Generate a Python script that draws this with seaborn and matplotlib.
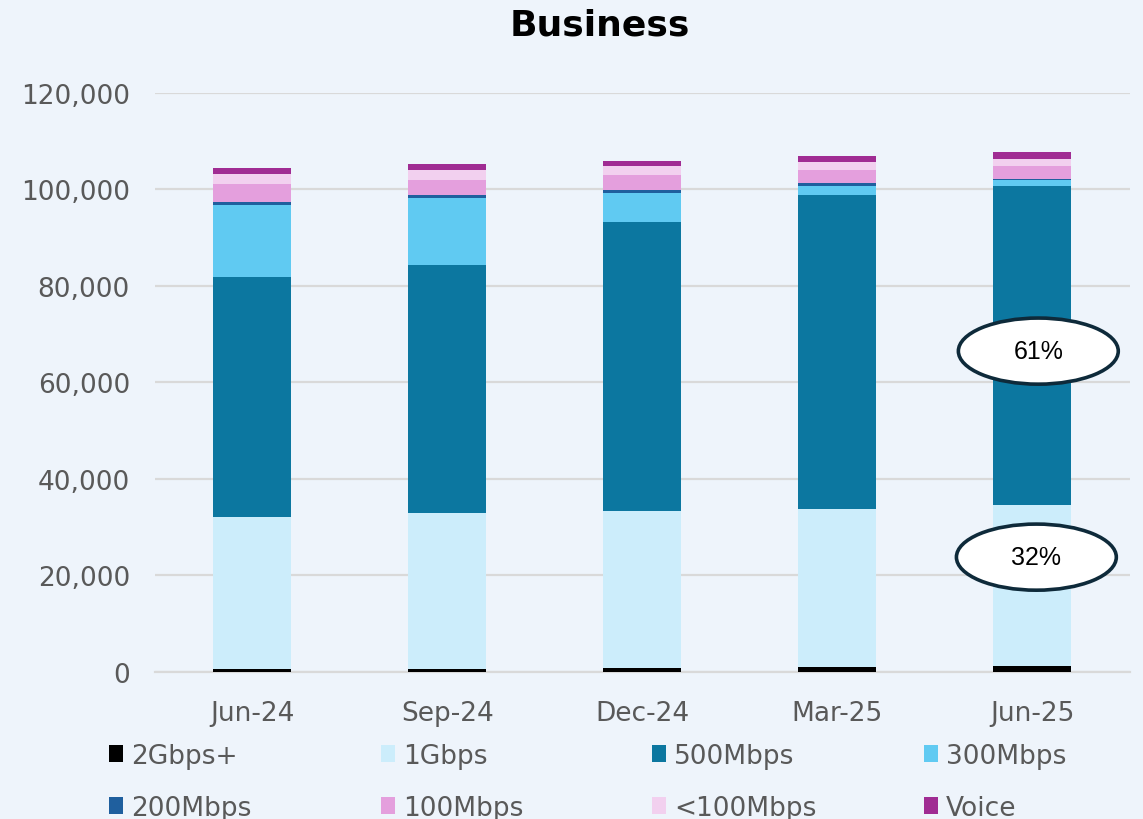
import numpy as np
import matplotlib.pyplot as plt
import seaborn as sns
from matplotlib.patches import Ellipse, Patch

quarters = ["Jun-24", "Sep-24", "Dec-24", "Mar-25", "Jun-25"]
tiers = ["2Gbps+", "1Gbps", "500Mbps", "300Mbps", "200Mbps", "100Mbps", "<100Mbps", "Voice"]

gbps2 = [550, 550, 750, 1000, 1200]
gbps1 = [31550, 32450, 32650, 32800, 33400]
mbps500 = [49800, 51400, 59900, 65100, 66100]
mbps300 = [14900, 13900, 6000, 1900, 1200]
mbps200 = [700, 600, 600, 500, 300]
mbps100 = [3600, 3100, 3000, 2700, 2700]
mbps_lt100 = [2100, 2000, 1900, 1600, 1400]
voice = [1300, 1300, 1200, 1300, 1400]

share_labels = ["61%", "32%"]

colors = ["#000000", "#CCEDFB", "#0C77A0", "#60CAF2",
          "#1F5F9E", "#E49FDD", "#F2D0EF", "#A02C93"]

bg = "#EEF4FB"
grey = "#595959"

sns.set_theme(style="white")
plt.rcParams["font.family"] = ["DejaVu Sans"]

fig = plt.figure(figsize=(11.43, 8.2), dpi=100, facecolor=bg)
ax = fig.add_axes([0.1356, 0.1793, 0.853, 0.7061], facecolor=bg)

series = [gbps2, gbps1, mbps500, mbps300, mbps200, mbps100, mbps_lt100, voice]
tops = np.cumsum(np.array(series), axis=0)

# draw cumulative totals from the top down so lower layers cover upper ones
for i in range(len(series) - 1, -1, -1):
    sns.barplot(x=quarters, y=tops[i], color=colors[i], width=0.4,
                saturation=1, linewidth=0, ax=ax, zorder=3)

ax.set_ylim(0, 120000)
ax.set_xlim(-0.5, 4.5)
ax.set_yticks(np.arange(0, 120001, 20000))
ax.set_yticklabels([f"{v:,}" for v in range(0, 120001, 20000)])
ax.yaxis.grid(True, color="#D9D9D9", linewidth=1.6, zorder=0)
ax.set_axisbelow(True)
for s in ["top", "right", "left"]:
    ax.spines[s].set_visible(False)
ax.spines["bottom"].set_color("#D9D9D9")
ax.spines["bottom"].set_linewidth(1.6)
ax.tick_params(axis="y", length=0, pad=18, labelsize=19, labelcolor=grey)
ax.tick_params(axis="x", length=0, pad=20, labelsize=19, labelcolor=grey)
ax.set_xlabel("")
ax.set_ylabel("")

fig.text(0.525, 0.969, "Business", ha="center", va="center",
         fontsize=26, fontweight="bold", color="black")

# callouts on the last bar
for (cx, cy), lab in zip([(4.03, 66500), (4.02, 23800)], share_labels):
    ax.add_patch(Ellipse((cx, cy), 0.82, 13700, facecolor="white",
                         edgecolor="#0E2A3A", linewidth=2.6, zorder=5, clip_on=False))
    ax.text(cx, cy, lab, ha="center", va="center", fontsize=18,
            family="Liberation Sans", color="black", zorder=6)

handles = [Patch(facecolor=c, edgecolor="none") for c in colors]
col_x = [0.095, 0.333, 0.570, 0.808]
for c in range(4):
    leg = fig.legend([handles[c], handles[c + 4]], [tiers[c], tiers[c + 4]],
                     loc="upper left", bbox_to_anchor=(col_x[c], 0.093),
                     frameon=False, fontsize=19, handlelength=0.55,
                     handleheight=0.6, handletextpad=0.3, labelspacing=1.0,
                     borderaxespad=0, borderpad=0)
    for t in leg.get_texts():
        t.set_color(grey)

fig.savefig("out.png", dpi=100, facecolor=bg)
